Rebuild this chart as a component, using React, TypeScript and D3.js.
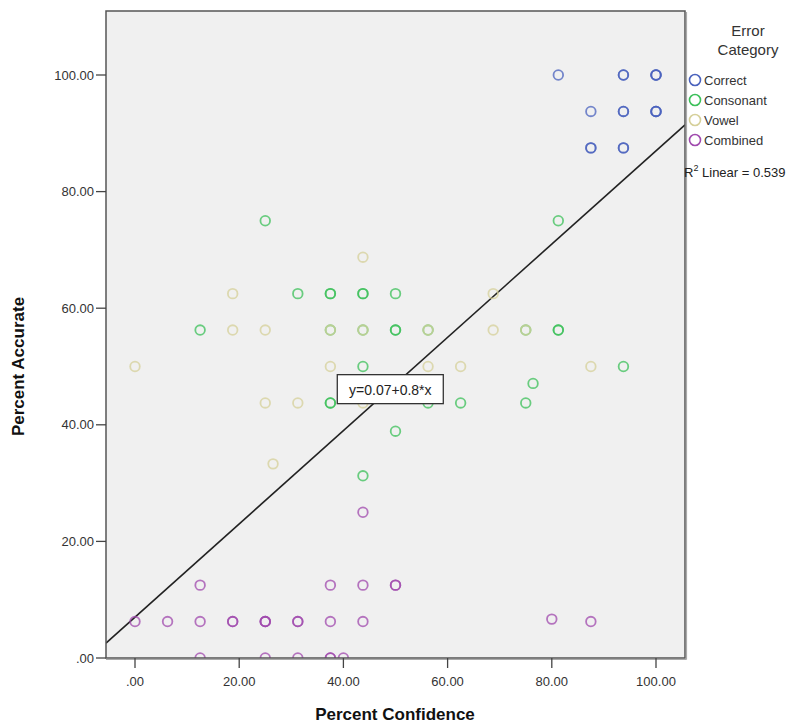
import React from 'react'
import * as d3 from 'd3'

// percent confidence / percent accurate pairs, by error category
const correctPts = [
  [81.25, 100], [93.75, 100], [93.75, 100], [100, 100], [100, 100], [100, 100],
  [87.5, 93.75], [93.75, 93.75], [93.75, 93.75], [100, 93.75], [100, 93.75], [100, 93.75],
  [87.5, 87.5], [87.5, 87.5], [93.75, 87.5], [93.75, 87.5]
]
const consonantPts = [
  [25, 75], [81.25, 75],
  [31.25, 62.5], [37.5, 62.5], [37.5, 62.5], [43.75, 62.5], [43.75, 62.5], [50, 62.5],
  [12.5, 56.25], [37.5, 56.25], [43.75, 56.25], [50, 56.25], [50, 56.25], [56.25, 56.25],
  [75, 56.25], [81.25, 56.25], [81.25, 56.25],
  [43.75, 50], [93.75, 50], [76.4, 47.1],
  [37.5, 43.75], [37.5, 43.75], [56.25, 43.75], [62.5, 43.75], [75, 43.75],
  [50, 38.9], [43.75, 31.25]
]
const vowelPts = [
  [43.75, 68.75], [18.75, 62.5], [68.75, 62.5],
  [18.75, 56.25], [25, 56.25], [37.5, 56.25], [43.75, 56.25], [56.25, 56.25], [68.75, 56.25], [75, 56.25],
  [0, 50], [37.5, 50], [56.25, 50], [62.5, 50], [87.5, 50],
  [25, 43.75], [31.25, 43.75], [43.75, 43.75], [26.5, 33.3]
]
const combinedPts = [
  [43.75, 25],
  [12.5, 12.5], [37.5, 12.5], [43.75, 12.5], [50, 12.5], [50, 12.5],
  [0, 6.25], [6.25, 6.25], [12.5, 6.25], [18.75, 6.25], [18.75, 6.25], [25, 6.25], [25, 6.25], [25, 6.25],
  [31.25, 6.25], [31.25, 6.25], [37.5, 6.25], [43.75, 6.25], [80, 6.67], [87.5, 6.25],
  [12.5, 0], [25, 0], [31.25, 0], [37.5, 0], [37.5, 0], [40, 0]
]

const categories = ['Correct', 'Consonant', 'Vowel', 'Combined']
const colors = ['#4a62bd', '#3cc05a', '#d6d09a', '#a04aae']
const series = [correctPts, consonantPts, vowelPts, combinedPts]

const xTicks = [0, 20, 40, 60, 80, 100]
const yTicks = [0, 20, 40, 60, 80, 100]

const fitIntercept = 7
const fitSlope = 0.8
const fitLabel = 'y=0.07+0.8*x'
const r2Label = '0.539'

const tickFmt = (d: number) => (d === 0 ? '.00' : d.toFixed(2))

export default function App() {
  const left = 106
  const right = 685
  const top = 11
  const bottom = 658

  const x = d3.scaleLinear().domain([0, 100]).range([135, 656])
  const y = d3.scaleLinear().domain([0, 100]).range([bottom, 75])

  const x0 = x.invert(left)
  const x1 = x.invert(right)
  const fit = d3
    .line<number>()
    .x(d => x(d))
    .y(d => y(fitIntercept + fitSlope * d))

  const labX = 49
  const labY = fitIntercept + fitSlope * labX
  const font = 'Arial, "Liberation Sans", sans-serif'

  return (
    <svg
      width={812}
      height={725}
      style={{ position: 'absolute', left: 0, top: 0, background: '#fff' }}
      fontFamily={font}
    >
      <defs>
        <clipPath id="plot">
          <rect x={left} y={top} width={right - left} height={bottom - top} />
        </clipPath>
      </defs>
      <rect x={left} y={top} width={right - left} height={bottom - top} fill="#f0f0f0" />

      <g clipPath="url(#plot)">
        <path d={fit([x0, x1]) || ''} stroke="#222" strokeWidth={1.6} fill="none" />
        {series.map((pts, i) => (
          <g key={categories[i]}>
            {pts.map((p, j) => (
              <circle
                key={j}
                cx={x(p[0])}
                cy={y(p[1])}
                r={4.8}
                fill="none"
                stroke={colors[i]}
                strokeWidth={1.8}
                strokeOpacity={0.75}
              />
            ))}
          </g>
        ))}
      </g>

      {/* frame */}
      <rect x={left} y={top} width={right - left} height={bottom - top} fill="none" stroke="#555" strokeWidth={1.5} />
      <line x1={right + 1.5} y1={top + 1} x2={right + 1.5} y2={bottom + 1.5} stroke="#aaa" strokeWidth={1.2} />
      <line x1={left} y1={bottom + 1.5} x2={right + 1.5} y2={bottom + 1.5} stroke="#aaa" strokeWidth={1.2} />

      {/* y axis */}
      {yTicks.map(t => (
        <g key={t}>
          <line x1={left - 10} x2={left} y1={y(t)} y2={y(t)} stroke="#444" strokeWidth={1.3} />
          <text x={left - 12} y={y(t)} dy="0.35em" textAnchor="end" fontSize={13} fill="#333">
            {tickFmt(t)}
          </text>
        </g>
      ))}
      {/* x axis */}
      {xTicks.map(t => (
        <g key={t}>
          <line x1={x(t)} x2={x(t)} y1={bottom} y2={bottom + 10} stroke="#444" strokeWidth={1.3} />
          <text x={x(t)} y={bottom + 28} textAnchor="middle" fontSize={13} fill="#333">
            {tickFmt(t)}
          </text>
        </g>
      ))}

      <text x={395} y={720} textAnchor="middle" fontSize={17} fontWeight="bold" fill="#111">
        Percent Confidence
      </text>
      <text
        transform={`translate(24, ${y(50)}) rotate(-90)`}
        textAnchor="middle"
        fontSize={17}
        fontWeight="bold"
        fill="#111"
      >
        Percent Accurate
      </text>

      {/* fit label */}
      <g transform={`translate(${x(labX)}, ${y(labY)})`}>
        <rect x={-53} y={-14} width={106} height={29} fill="#fff" stroke="#333" strokeWidth={1.3} />
        <text x={0} y={1} dy="0.35em" textAnchor="middle" fontSize={14} fill="#222">
          {fitLabel}
        </text>
      </g>

      {/* legend */}
      <text x={748} y={36} textAnchor="middle" fontSize={15} fill="#333">Error</text>
      <text x={748} y={55} textAnchor="middle" fontSize={15} fill="#333">Category</text>
      {categories.map((c, i) => (
        <g key={c} transform={`translate(695, ${80 + i * 20})`}>
          <circle r={5.5} fill="none" stroke={colors[i]} strokeWidth={1.6} />
          <text x={9} dy="0.35em" fontSize={13} fill="#333">{c}</text>
        </g>
      ))}
      <text x={684} y={177} fontSize={13} fill="#222">
        R<tspan dy={-6} fontSize={9}>2</tspan>
        <tspan dy={6}> Linear = {r2Label}</tspan>
      </text>
    </svg>
  )
}
